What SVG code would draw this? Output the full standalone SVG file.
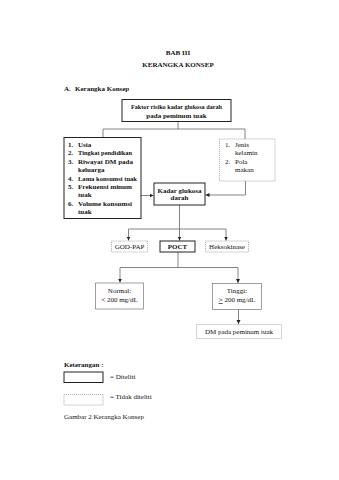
<svg xmlns="http://www.w3.org/2000/svg" width="339" height="480" viewBox="0 0 339 480">
<style>
text{font-family:"Liberation Serif","Times New Roman",serif;font-size:7px;fill:#111}
.b{font-weight:bold}
.m{text-anchor:middle}
.solid{fill:#fff;stroke:#222;stroke-width:1}
.dash{fill:#fff;stroke:#999;stroke-width:0.7;stroke-dasharray:1.2 0.8}
.c{fill:none;stroke:#666;stroke-width:0.8}
</style>
<defs>
<marker id="ah" markerWidth="5" markerHeight="5" refX="4" refY="2.5" orient="auto" markerUnits="userSpaceOnUse">
<path d="M0,0.5 L4,2.5 L0,4.5 Z" fill="#222"/>
</marker>
</defs>
<rect width="339" height="480" fill="#fff"/>
<g id="title">
<text class="b m" x="178" y="54.5">BAB III</text>
<text class="b m" x="178" y="66.5">KERANGKA KONSEP</text>
<text class="b" x="64" y="90.5">A.</text>
<text class="b" x="75" y="90.5">Kerangka Konsep</text>
</g>
<g id="connectors">
<path class="c" d="M178,121 V129 M103,129 H245 M103,129 V137 M245,129 V139"/>
<path class="c" d="M141,195.5 H153.5" marker-end="url(#ah)"/>
<path class="c" d="M245.5,181 V195 H205.5" marker-end="url(#ah)"/>
<path class="c" d="M179.5,205 V229 M128.5,229 H226"/>
<path class="c" d="M128.5,229 V240.5" marker-end="url(#ah)"/>
<path class="c" d="M179.5,229 V240.5" marker-end="url(#ah)"/>
<path class="c" d="M226,229 V240.5" marker-end="url(#ah)"/>
<path class="c" d="M178,252 V267.5 M120,267.5 H238"/>
<path class="c" d="M120,267.5 V282.5" marker-end="url(#ah)"/>
<path class="c" d="M238,267.5 V283" marker-end="url(#ah)"/>
<path class="c" d="M238.5,309 V324" marker-end="url(#ah)"/>
</g>
<g id="faktor">
<rect class="solid" x="122" y="99.5" width="109" height="22"/>
<text class="b m" x="176.5" y="108.5" textLength="91" lengthAdjust="spacingAndGlyphs">Faktor risiko kadar glukosa darah</text>
<text class="b m" x="176.5" y="117.5">pada peminum tuak</text>
</g>
<g id="diteliti-factors">
<rect class="solid" x="64" y="137.5" width="77" height="81"/>
<g class="b">
<text x="68" y="146.5">1.</text><text x="78" y="146.5">Usia</text>
<text x="68" y="155">2.</text><text x="78" y="155" textLength="54" lengthAdjust="spacingAndGlyphs">Tingkat pendidikan</text>
<text x="68" y="163.5">3.</text><text x="78" y="163.5" textLength="55" lengthAdjust="spacingAndGlyphs">Riwayat  DM pada</text>
<text x="78" y="172">keluarga</text>
<text x="68" y="180.5">4.</text><text x="78" y="180.5" textLength="59" lengthAdjust="spacingAndGlyphs">Lama konsumsi tuak</text>
<text x="68" y="188.5">5.</text><text x="78" y="188.5" textLength="54" lengthAdjust="spacingAndGlyphs">Frekuensi minum</text>
<text x="78" y="197">tuak</text>
<text x="68" y="205.5">6.</text><text x="78" y="205.5" textLength="54" lengthAdjust="spacingAndGlyphs">Volume konsumsi</text>
<text x="78" y="213.5">tuak</text>
</g>
</g>
<g id="tidak-factors">
<rect class="dash" x="219.5" y="139" width="55.5" height="42"/>
<text x="225" y="146.5">1.</text><text x="235" y="146.5">Jenis</text>
<text x="235" y="155">kelamin</text>
<text x="225" y="163.5">2.</text><text x="235" y="163.5">Pola</text>
<text x="235" y="172">makan</text>
</g>
<g id="kadar">
<rect class="solid" x="154" y="183" width="51" height="22"/>
<text class="b m" x="179.5" y="192.5">Kadar glukosa</text>
<text class="b m" x="179.5" y="200">darah</text>
</g>
<g id="godpap">
<rect class="dash" x="111.5" y="241" width="36" height="11"/>
<text class="m" x="129.5" y="249">GOD-PAP</text>
</g>
<g id="poct">
<rect class="solid" x="160" y="241" width="35" height="11"/>
<text class="b m" x="177.5" y="249">POCT</text>
</g>
<g id="hekso">
<rect class="dash" x="205.5" y="241" width="43" height="11"/>
<text class="m" x="227" y="249">Heksokinase</text>
</g>
<g id="normal">
<rect class="solid" x="95.5" y="283" width="48" height="26" style="stroke:#777;stroke-width:0.7"/>
<text class="m" x="119.5" y="292.5">Normal:</text>
<text class="m" x="119.5" y="301.5">&lt; 200 mg/dL</text>
</g>
<g id="tinggi">
<rect class="solid" x="212.5" y="283.5" width="49" height="26" style="stroke:#777;stroke-width:0.7"/>
<text class="m" x="237" y="292.5">Tinggi:</text>
<text class="m" x="237" y="302"><tspan text-decoration="underline">&gt;</tspan> 200 mg/dL</text>
</g>
<g id="dm">
<rect class="dash" x="196.5" y="324.5" width="85" height="14"/>
<text class="m" x="239" y="334">DM pada peminum tuak</text>
</g>
<g id="legend">
<text class="b" x="64" y="366.5">Keterangan :</text>
<rect class="solid" x="64" y="372" width="39" height="10.5"/>
<text x="110" y="378.5">= Diteliti</text>
<rect class="dash" x="64" y="394.5" width="39" height="10.5"/>
<text x="110" y="399">= Tidak diteliti</text>
<text x="64" y="418.5">Gambar 2 Kerangka Konsep</text>
</g>
</svg>
